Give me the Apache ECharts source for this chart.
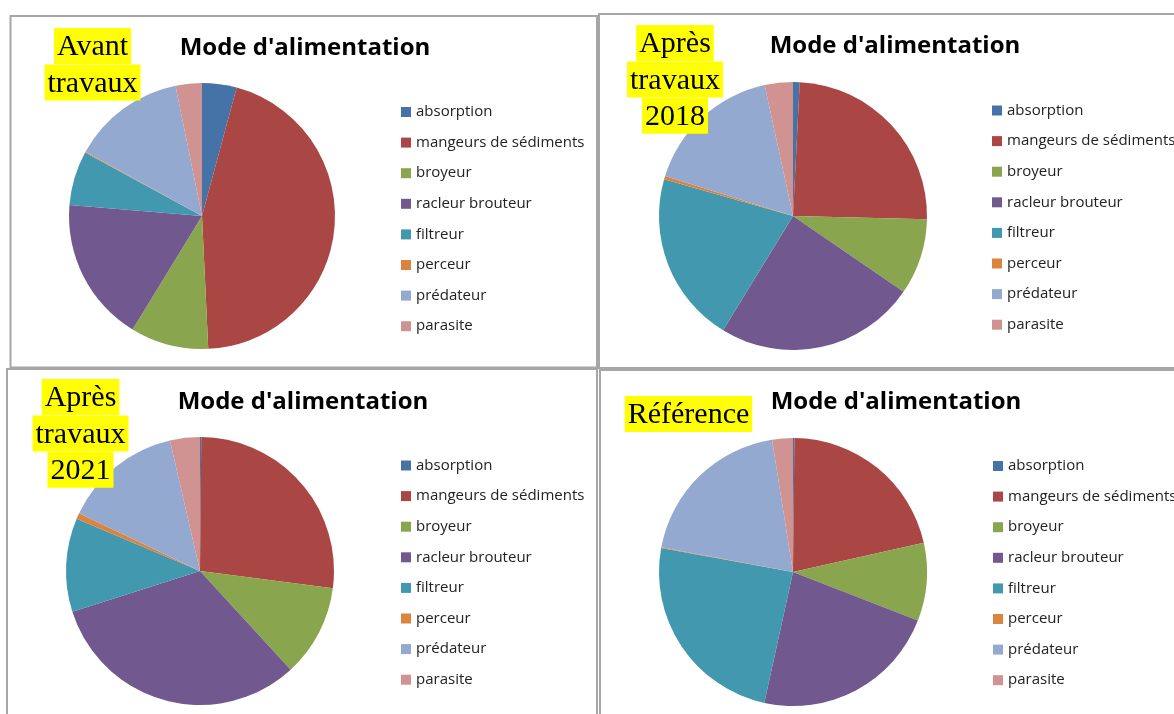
<!DOCTYPE html>
<html>
<head>
<meta charset="utf-8">
<title>Mode d'alimentation</title>
<script src="https://cdn.jsdelivr.net/npm/echarts@6/dist/echarts.min.js"></script>
<style>
    html, body { margin: 0; padding: 0; background: #fff; }
    #chart { width: 1174px; height: 714px; }
</style>
</head>
<body>
<div id="chart"></div>
<script>
// categories (legend order)
var categories = ['absorption', 'mangeurs de sédiments', 'broyeur', 'racleur brouteur', 'filtreur', 'perceur', 'prédateur', 'parasite'];

// shares (%)
var avantTravaux = [4.2, 45.1, 9.5, 17.6, 6.6, 0.1, 13.8, 3.2];
var apres2018 = [0.8, 24.6, 9.2, 24.2, 20.7, 0.4, 16.8, 3.4];
var apres2021 = [0.15, 26.9, 11.1, 31.9, 11.3, 0.7, 14.3, 3.6];
var reference = [0.17, 21.3, 9.4, 22.5, 24.4, 0.1, 19.5, 2.5];

var chartTitle = "Mode d'alimentation";
var panelLabels = [['Avant', 'travaux'], ['Après', 'travaux', '2018'], ['Après', 'travaux', '2021'], ['Référence']];

var colors = ['#4572A7', '#AA4643', '#89A54E', '#71588F', '#4198AF', '#DB843D', '#93A9CF', '#D19392'];

// layout of the four panels
var panels = [
    { values: avantTravaux, box: [10.5, 16, 586.5, 351.5], center: [202, 216], r: 133, titleX: 305, titleY: 33, legendX: 401, legendY: 104, labelX: 92.5, labelY: 28 },
    { values: apres2018, box: [599, 14, 600, 354], center: [793, 216], r: 134, titleX: 895, titleY: 31, legendX: 992, legendY: 102.5, labelX: 675, labelY: 25 },
    { values: apres2021, box: [7, 369, 590, 360], center: [200, 571], r: 134, titleX: 303, titleY: 387, legendX: 401, legendY: 457.5, labelX: 80.5, labelY: 379 },
    { values: reference, box: [600, 370, 600, 360], center: [793, 572], r: 134, titleX: 896, titleY: 387, legendX: 993, legendY: 458, labelX: 688.5, labelY: 396 }
];

var myChart = echarts.init(document.getElementById('chart'));

var titles = [];
var legends = [];
var series = [];
var graphics = [];

panels.forEach(function (p, k) {
    graphics.push({
        type: 'rect',
        shape: { x: p.box[0], y: p.box[1], width: p.box[2], height: p.box[3] },
        style: { fill: 'none', stroke: '#a6a6a6', lineWidth: 2 },
        silent: true
    });
    panelLabels[k].forEach(function (line, j) {
        graphics.push({
            type: 'text',
            x: p.labelX,
            y: p.labelY + j * 36.4,
            style: {
                text: line,
                font: '30px "Liberation Serif"',
                fill: '#000',
                align: 'center',
                verticalAlign: 'top',
                lineHeight: 33,
                backgroundColor: '#ffff00',
                padding: [3, 3, 0, 3]
            },
            silent: true,
            z: 10
        });
    });
    titles.push({
        text: chartTitle,
        left: p.titleX,
        top: p.titleY,
        textAlign: 'center',
        padding: 0,
        textStyle: {
            fontFamily: 'Open Sans',
            fontWeight: 'bold',
            fontSize: 24,
            lineHeight: 30,
            color: '#000'
        }
    });
    legends.push({
        orient: 'vertical',
        left: p.legendX,
        top: p.legendY,
        padding: 0,
        itemWidth: 10,
        itemHeight: 10,
        itemGap: 14.6,
        icon: 'rect',
        data: categories,
        selectedMode: false,
        textStyle: {
            fontFamily: 'Open Sans',
            fontSize: 15,
            lineHeight: 16,
            color: '#222'
        }
    });
    series.push({
        name: chartTitle,
        type: 'pie',
        center: p.center,
        radius: p.r,
        startAngle: 90,
        clockwise: true,
        avoidLabelOverlap: false,
        label: { show: false },
        labelLine: { show: false },
        emphasis: { scale: false },
        itemStyle: { borderWidth: 0 },
        data: categories.map(function (name, i) {
            return { name: name, value: p.values[i] };
        })
    });
});

var option = {
    animation: false,
    color: colors,
    title: titles,
    legend: legends,
    series: series,
    graphic: graphics
};
myChart.setOption(option, true);
</script>
</body>
</html>
